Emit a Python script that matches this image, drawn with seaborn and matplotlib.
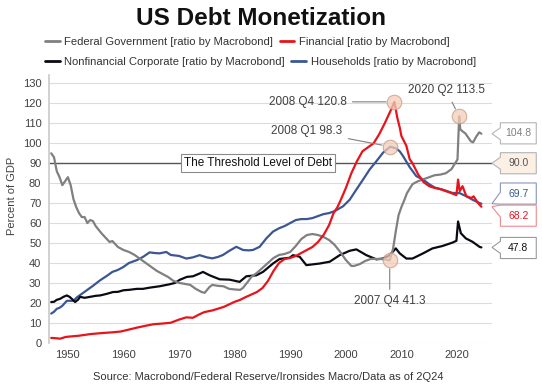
import numpy as np
import pandas as pd
import matplotlib
matplotlib.use("Agg")
import matplotlib.pyplot as plt
from matplotlib.patches import Polygon
from matplotlib.lines import Line2D
import seaborn as sns

sns.set_theme(style="white")
plt.rcParams['font.family'] = ['Liberation Sans', 'DejaVu Sans']

# ---- data (percent of GDP) ----
fed_years = [1947.0, 1947.5, 1948.0, 1948.5, 1949.0, 1949.5, 1950.0, 1950.5, 1951.0, 1951.5,
             1952.0, 1952.5, 1953.0, 1953.5, 1954.0, 1954.5, 1955.0, 1956.0, 1957.0, 1957.5,
             1958.0, 1958.5, 1959.0, 1960.0, 1961.0, 1962.0, 1963.0, 1964.0, 1965.0, 1966.0,
             1967.0, 1968.0, 1969.0, 1970.0, 1971.0, 1972.0, 1973.0, 1974.0, 1974.6, 1975.5,
             1976.0, 1977.0, 1978.0, 1979.0, 1980.0, 1981.0, 1981.5, 1982.5, 1983.0, 1984.0,
             1985.0, 1986.0, 1987.0, 1988.0, 1989.0, 1990.0, 1991.0, 1992.0, 1993.0, 1994.0,
             1995.0, 1996.0, 1997.0, 1998.0, 1999.0, 2000.0, 2001.0, 2001.5, 2002.5, 2003.5,
             2004.5, 2006.0, 2007.0, 2007.9, 2008.5, 2009.0, 2009.5, 2010.0, 2010.6, 2011.0,
             2012.0, 2013.0, 2014.0, 2015.0, 2016.0, 2017.0, 2018.0, 2019.0, 2019.9, 2020.1,
             2020.4, 2020.6, 2021.0, 2021.5, 2022.0, 2022.5, 2022.9, 2023.5, 2024.0, 2024.4]
fed_vals = [95, 93, 86, 83, 79, 81, 83, 79, 72, 68,
            65, 63, 63, 60, 61.5, 61, 58.5, 55, 52, 50.5,
            51, 49.5, 48, 46.5, 45.5, 44, 42, 40, 38, 36,
            34.5, 33, 31, 30, 29.5, 29, 27, 25.5, 25, 28,
            29, 28.5, 28.3, 27, 26.7, 26.5, 27.5, 31, 33, 35,
            37.5, 40, 42.5, 44, 44.5, 45.5, 48.5, 52, 54, 54.5,
            54, 53, 51.5, 49, 45.5, 41.5, 38.5, 38.5, 39.4, 41,
            42, 42, 41.8, 41.3, 47, 56, 64, 68, 72, 75,
            79.5, 81, 82, 83, 84, 84.3, 85, 87, 91, 92,
            113.5, 107, 106, 105, 103, 101, 100.5, 103.5, 105.5, 104.8]

fin_years = [1947.0, 1948.0, 1948.6, 1949.5, 1950.0, 1952.0, 1954.0, 1956.0, 1958.0, 1959.5,
             1961.0, 1962.5, 1964.0, 1965.5, 1967.0, 1968.5, 1970.0, 1971.3, 1972.5, 1973.5,
             1974.5, 1976.0, 1978.0, 1980.0, 1981.0, 1982.0, 1984.0, 1985.0, 1986.0, 1987.0,
             1988.0, 1989.0, 1990.0, 1991.0, 1992.0, 1993.0, 1994.0, 1995.0, 1996.0, 1997.0,
             1997.8, 1998.5, 1999.0, 2000.0, 2001.0, 2002.0, 2003.0, 2004.0, 2005.0, 2006.0,
             2007.0, 2008.0, 2008.75, 2009.25, 2009.7, 2010.0, 2010.9, 2011.5, 2012.0, 2013.0,
             2014.0, 2015.0, 2016.0, 2017.0, 2018.0, 2019.0, 2019.9, 2020.2, 2020.5, 2021.0,
             2021.7, 2022.6, 2023.0, 2023.8, 2024.4]
fin_vals = [2.4, 2.2, 2.0, 2.8, 3.0, 3.5, 4.3, 4.8, 5.2, 5.6,
            6.6, 7.6, 8.5, 9.3, 9.6, 10, 11.6, 12.7, 12.5, 14,
            15.3, 16.2, 17.9, 20.5, 21.5, 22.9, 25.4, 27.4, 31, 36,
            40, 42, 42.5, 43.5, 45, 46.5, 48, 50.5, 54, 59,
            65, 68, 71, 77.5, 85, 91, 96, 98, 100, 104.5,
            110, 116, 120.8, 113, 108, 103.7, 98.7, 92, 90, 84.5,
            80.5, 78.5, 77.6, 77, 76, 75, 74, 81.8, 76, 78.5,
            73.4, 72.6, 73.4, 70, 68.2]

corp_years = [1947.0, 1947.5, 1948.0, 1948.6, 1949.2, 1949.8, 1950.3, 1950.7, 1951.3, 1951.8,
              1952.2, 1953.0, 1954.0, 1955.0, 1955.8, 1957.0, 1958.1, 1959.0, 1960.0, 1961.0,
              1962.4, 1963.5, 1964.7, 1966.5, 1968.3, 1969.3, 1970.1, 1971.4, 1972.5, 1973.7,
              1974.3, 1975.5, 1977.3, 1979.1, 1980.9, 1982.1, 1983.9, 1985.1, 1986.9, 1988.1,
              1989.9, 1990.5, 1991.7, 1992.9, 1995.3, 1997.1, 1998.9, 2000.7, 2001.9, 2003.7,
              2005.5, 2006.7, 2007.9, 2009.0, 2009.7, 2010.9, 2012.0, 2013.9, 2015.6, 2017.4,
              2019.2, 2019.9, 2020.2, 2020.7, 2021.6, 2022.8, 2024.1, 2024.4]
corp_vals = [20.4, 20.5, 21.5, 22, 23, 23.7, 23, 22, 20.4, 21.5,
             23, 22.5, 23, 23.5, 23.7, 24.5, 25.4, 25.5, 26.3, 26.5,
             27, 27, 27.6, 28.3, 29.3, 30, 31.5, 33, 33.3, 34.7,
             35.5, 33.8, 31.8, 31.6, 30.5, 33.3, 33.8, 35.5, 39.7, 42,
             42.6, 43.9, 43.1, 38.9, 39.7, 40.6, 43.9, 46.1, 46.8, 43.9,
             41.8, 42.2, 43.9, 47.3, 44.8, 42.2, 42.2, 44.8, 47.3, 48.5,
             50.2, 51.1, 60.8, 54.9, 52.3, 50.6, 48, 47.8]

hh_years = [1947.0, 1947.5, 1948.0, 1948.5, 1949.0, 1949.8, 1950.5, 1951.0, 1951.6, 1952.5,
            1953.4, 1954.5, 1955.8, 1957.0, 1958.0, 1959.0, 1960.0, 1961.0, 1962.4, 1963.5,
            1964.7, 1965.5, 1966.5, 1967.7, 1968.5, 1970.0, 1971.3, 1972.5, 1973.7, 1975.0,
            1976.0, 1977.0, 1977.9, 1979.0, 1980.3, 1981.5, 1982.5, 1983.3, 1984.5, 1985.7,
            1986.9, 1988.0, 1989.0, 1990.0, 1991.0, 1992.0, 1993.0, 1994.0, 1995.0, 1996.0,
            1997.0, 1998.0, 1999.5, 2000.7, 2001.9, 2003.1, 2004.3, 2005.5, 2006.7, 2008.0,
            2009.0, 2009.7, 2010.3, 2011.5, 2012.7, 2013.9, 2015.0, 2016.0, 2017.4, 2019.2,
            2020.5, 2021.7, 2022.8, 2024.1, 2024.4]
hh_vals = [14.6, 15.5, 17, 17.5, 18.5, 21, 21, 21, 22.7, 24.5,
           26.3, 28.5, 31.3, 33.5, 35.5, 36.5, 38, 40, 41.4, 43,
           45.3, 45, 44.8, 45.5, 44, 43.5, 42.2, 42.8, 43.9, 42.8,
           42.3, 43, 44, 46, 48.1, 46.5, 46.3, 46.5, 48.1, 52.3,
           55.7, 57.4, 58.5, 60, 61.5, 62, 62, 62.5, 63.5, 64.5,
           65, 66, 68.4, 71.7, 76.8, 81.8, 86.9, 91, 95.3, 98.3,
           97.5, 96, 93.6, 88, 83.5, 81.8, 79.5, 77.8, 76.8, 75.1,
           75, 73.4, 71.7, 70, 69.7]

series_names = ["Federal Government [ratio by Macrobond]", "Financial [ratio by Macrobond]",
                "Nonfinancial Corporate [ratio by Macrobond]", "Households [ratio by Macrobond]"]
colors = ["#808080", "#e8141c", "#0a0a14", "#3b5793"]
threshold = 90.0

df = pd.concat([
    pd.DataFrame({"year": hh_years, "value": hh_vals, "series": series_names[3]}),
    pd.DataFrame({"year": corp_years, "value": corp_vals, "series": series_names[2]}),
    pd.DataFrame({"year": fed_years, "value": fed_vals, "series": series_names[0]}),
    pd.DataFrame({"year": fin_years, "value": fin_vals, "series": series_names[1]}),
], ignore_index=True)
palette = dict(zip(series_names, colors))

fig = plt.figure(figsize=(5.42, 3.85), dpi=100)
ax = fig.add_axes([0.0904, 0.1099, 0.8173, 0.695])

ax.axhline(threshold, color="#555555", lw=1.0, zorder=1)
sns.lineplot(data=df, x="year", y="value", hue="series", palette=palette,
             estimator=None, sort=True, lw=1.6, legend=False, ax=ax, zorder=3)

ax.set_xlim(1946.6, 2026.3)
ax.set_ylim(0, 134.2)
ax.set_yticks(np.arange(0, 131, 10))
ax.set_xticks(np.arange(1950, 2021, 10))
ax.yaxis.grid(True, color="#dcdcdc", lw=0.8)
ax.set_axisbelow(True)
for s in ["top", "right", "bottom"]:
    ax.spines[s].set_visible(False)
ax.spines["left"].set_color("#cccccc")
ax.tick_params(axis="both", colors="#555555", labelcolor="#404040", labelsize=8,
               length=3.5, width=0.8, direction="out", pad=2)
ax.set_xlabel("")
ax.set_ylabel("Percent of GDP", fontsize=8, color="#404040")
ax.yaxis.set_label_coords(-0.072, 0.55)

# threshold label
ax.text(1984.2, threshold, "The Threshold Level of Debt", ha="center", va="center",
        fontsize=8.5, color="#111111", zorder=5,
        bbox=dict(boxstyle="square,pad=0.25", fc="white", ec="#8a8a8a", lw=0.8))

# highlighted points
circ_kw = dict(s=110, facecolor="#f3cdb8", edgecolor="#c49a84", alpha=0.75, lw=0.8, zorder=6)
ann_kw = dict(fontsize=8.5, color="#404040", textcoords="offset pixels", va="center",
              arrowprops=dict(arrowstyle="-", color="#808080", lw=0.8, shrinkA=2, shrinkB=6))

i = int(np.argmax(fin_vals))
ax.scatter([fin_years[i]], [fin_vals[i]], **circ_kw)
ax.annotate(f"2008 Q4 {fin_vals[i]:.1f}", (fin_years[i], fin_vals[i]), xytext=(-48, 0),
            ha="right", **ann_kw)
i = int(np.argmax(hh_vals))
ax.scatter([hh_years[i]], [hh_vals[i]], **circ_kw)
ax.annotate(f"2008 Q1 {hh_vals[i]:.1f}", (hh_years[i], hh_vals[i]), xytext=(-48, 16),
            ha="right", **ann_kw)
i = int(np.argmax(fed_vals))
ax.scatter([fed_years[i]], [fed_vals[i]], **circ_kw)
ax.annotate(f"2020 Q2 {fed_vals[i]:.1f}", (fed_years[i], fed_vals[i]), xytext=(-13, 26),
            ha="center", **ann_kw)
i = fed_years.index(2007.9)
ax.scatter([fed_years[i]], [fed_vals[i]], **circ_kw)
ax.annotate(f"2007 Q4 {fed_vals[i]:.1f}", (fed_years[i], fed_vals[i]), xytext=(0, -41),
            ha="center", **ann_kw)

# value callouts at the right edge
trans = ax.get_yaxis_transform()
callouts = [
    (fed_vals[-1], 105.0, "#808080", "white", "#b5b5b5"),
    (threshold, 90.0, "#555555", "#fcefe4", "#b5b5b5"),
    (hh_vals[-1], 74.8, "#3b5793", "white", "#8796bd"),
    (fin_vals[-1], 63.7, "#e8141c", "white", "#ee8a8d"),
    (corp_vals[-1], 47.5, "#111111", "white", "#9a9a9a"),
]
x0, x1, h = 1.019, 1.10, 10.6
for val, yc, tc, fc, ec in callouts:
    top, bot = yc + h / 2, yc - h / 2
    mid = min(max(val, bot + 3), top - 3)
    pts = [(x0, top), (x1, top), (x1, bot), (x0, bot), (x0, mid - 3), (1.0, val), (x0, mid + 3)]
    ax.add_patch(Polygon(pts, closed=True, transform=trans, clip_on=False,
                         fc=fc, ec=ec, lw=0.8, zorder=5))
    ax.text((x0 + x1) / 2, yc, f"{val:.1f}", transform=trans, ha="center", va="center",
            fontsize=7.5, color=tc, clip_on=False, zorder=6)

# title, legend, source
fig.text(0.482, 0.953, "US Debt Monetization", ha="center", va="center",
         fontsize=17.5, fontweight="bold", color="#111111")
handles = [Line2D([], [], color=c, lw=2) for c in colors]
leg_kw = dict(loc="center left", ncol=2, frameon=False, fontsize=8.1, handlelength=1.3,
              handletextpad=0.4, columnspacing=0.6, borderpad=0, borderaxespad=0)
for k, yy in [(0, 0.891), (2, 0.839)]:
    leg = fig.legend(handles[k:k + 2], series_names[k:k + 2], bbox_to_anchor=(0.083, yy), **leg_kw)
    for t in leg.get_texts():
        t.set_color("#333333")
fig.text(0.495, 0.022, "Source: Macrobond/Federal Reserve/Ironsides Macro/Data as of 2Q24",
         ha="center", va="center", fontsize=8, color="#333333")

fig.savefig("out.png", dpi=100)
